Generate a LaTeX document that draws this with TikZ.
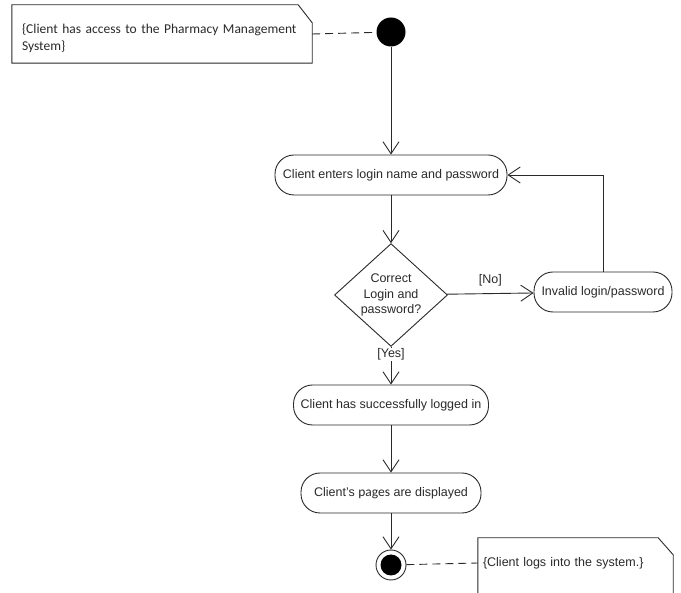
\documentclass[tikz,border=0pt]{standalone}
\usepackage{fontspec}
\setmainfont{Liberation Sans}
\newfontfamily\notefont{Carlito}
\usetikzlibrary{shapes.geometric,arrows.meta,backgrounds}

\definecolor{ink}{HTML}{2A2A2A}

\tikzset{
  action/.style={draw=ink, line width=0.9pt, rectangle, rounded corners=19pt,
    minimum height=40pt, inner sep=0pt, font=\fontsize{12.5}{15.5}\selectfont, text=ink},
  decision/.style={draw=ink, line width=0.9pt, diamond, minimum width=113pt,
    minimum height=79pt, inner sep=0pt, align=center,
    font=\fontsize{12.5}{15.5}\selectfont, text=ink},
  initial/.style={circle, fill=black, minimum size=29pt, inner sep=0pt},
  final/.style={circle, draw=ink, line width=0.9pt, fill=white, minimum size=30pt,
    inner sep=0pt, path picture={\fill[black] (path picture bounding box.center) circle (10.5pt);}},
  notebox/.style={rectangle, inner sep=0pt, text=ink, align=left},
  noteline/.style={draw=ink, line width=0.9pt, fill=white},
  flow/.style={draw=ink, line width=0.9pt, -{Straight Barb[length=12pt,width=16pt]}},
  anchorline/.style={draw=ink, line width=0.9pt, dash pattern=on 8pt off 5pt},
  guard/.style={font=\fontsize{12.5}{15}\selectfont, text=ink, inner sep=1pt}
}

\begin{document}
\begin{tikzpicture}[x=1pt, y=-1pt]
  \begin{scope}[on background layer]
    \fill[white] (0,0) rectangle (681,593);
  \end{scope}
  \useasboundingbox (0,0) rectangle (681,593);

  % comment notes
  \node[notebox, minimum width=300pt, minimum height=58pt, text width=280pt,
        font=\notefont\fontsize{13.5}{17}\selectfont] (note1) at (162,34)
        {\rule{0pt}{18pt}\{Client has access to the Pharmacy Management\\System\}};
  \node[notebox, minimum width=195pt, minimum height=50pt, text width=185pt,
        font=\fontsize{12.5}{15}\selectfont] (note2) at (575.5,563)
        {\{Client logs into the system.\}};

  % note outlines with a cut top-right corner, kept behind the text
  \begin{scope}[on background layer]
    \path[noteline] (note1.south west) -- (note1.north west) -- ([xshift=-14pt]note1.north east)
          -- ([yshift=-18pt]note1.north east) -- (note1.south east) -- cycle;
    \path[fill=white] (note2.north west) -- ([xshift=-15pt]note2.north east)
          -- ([yshift=-17pt]note2.north east) -- (note2.east |- 0,593) -- (note2.west |- 0,593) -- cycle;
    \draw[draw=ink, line width=0.9pt] (note2.west |- 0,593) -- (note2.north west)
          -- ([xshift=-15pt]note2.north east) -- ([yshift=-17pt]note2.north east)
          -- (note2.east |- 0,593);
  \end{scope}

  % activity flow
  \node[initial] (start) at (391,32) {};
  \node[action, minimum width=232pt] (enter) at (391,175) {Client enters login name and password};
  \node[decision] (check) at (391,295) {Correct\\Login and\\password?};
  \node[action, minimum width=138pt] (invalid) at (603,292) {Invalid login/password};
  \node[action, minimum width=195pt] (ok) at (391,405) {Client has successfully logged in};
  \node[action, minimum width=180pt] (shown) at (391,493) {Client's {\notefont\fontsize{13.5}{15}\selectfont pages} are displayed};
  \node[final] (finish) at (391,565) {};

  % connectors
  \draw[anchorline] (note1.east) -- (start);
  \draw[flow] (start) -- (enter);
  \draw[flow] (enter) -- (check);
  \draw[flow] (check) -- node[guard, above=6pt] {[No]} (invalid);
  \draw[flow] (invalid.north) |- (enter.east);
  \draw[flow] (check) -- node[guard, fill=white, pos=0.2] {[Yes]} (ok);
  \draw[flow] (ok) -- (shown);
  \draw[flow] (shown) -- (finish);
  \draw[anchorline] (finish) -- (note2.west);
\end{tikzpicture}
\end{document}
